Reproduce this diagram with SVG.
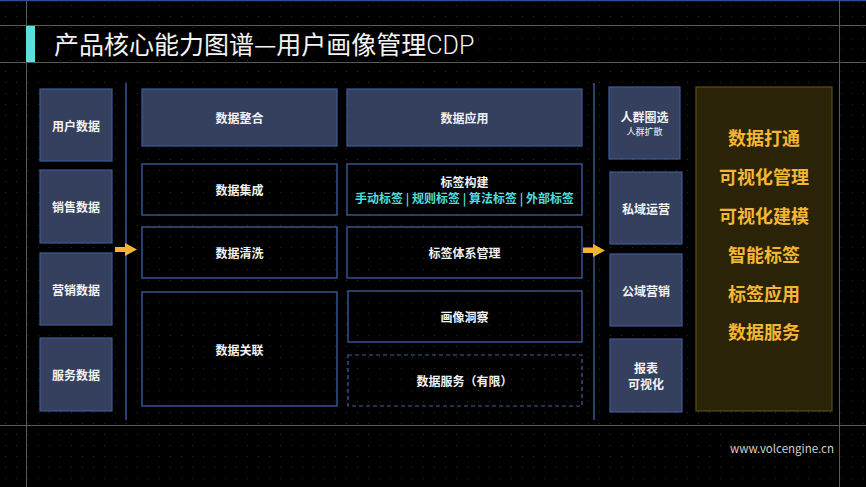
<svg xmlns="http://www.w3.org/2000/svg" width="866" height="487" viewBox="0 0 866 487">
<defs>
<pattern id="dots" x="0" y="0" width="11" height="11" patternUnits="userSpaceOnUse">
<rect x="5" y="5" width="1" height="1" fill="#2e2e2e"/>
</pattern>
</defs>
<style>
text{font-family:"Noto Sans CJK SC","Noto Sans",sans-serif;}
.fill{fill:#353f5e;stroke:#3e5b98;stroke-width:1.2;}
.out{fill:none;stroke:#3e5fa2;stroke-width:1.3;}
.dash{fill:none;stroke:#3e5fa2;stroke-width:1.2;stroke-dasharray:4 3;}
.t{fill:#f2f2f2;font-size:12px;font-weight:700;text-anchor:middle;dominant-baseline:central;}
.s{fill:#f2f2f2;font-size:9px;text-anchor:middle;dominant-baseline:central;}
.c{fill:#4fdede;font-size:12px;font-weight:700;text-anchor:middle;dominant-baseline:central;}
.y{fill:#f3b734;font-size:18px;font-weight:700;text-anchor:middle;dominant-baseline:central;}
.grid{stroke:#5a5a5a;stroke-width:1;}
.vl{stroke:#3e62b0;stroke-width:1.3;}
</style>
<rect width="866" height="487" fill="#000"/>
<rect width="866" height="487" fill="url(#dots)"/>
<line x1="0" y1="0.5" x2="866" y2="0.5" stroke="#2b4c9b" stroke-width="1.5"/>
<g id="gridlines">
<line class="grid" x1="0" y1="25.5" x2="866" y2="25.5"/>
<line class="grid" x1="0" y1="62.5" x2="866" y2="62.5"/>
<line class="grid" x1="0" y1="425.5" x2="866" y2="425.5"/>
<line class="grid" x1="26.5" y1="0" x2="26.5" y2="487"/>
<line class="grid" x1="839.5" y1="0" x2="839.5" y2="487"/>
</g>
<g id="title">
<rect x="26" y="26" width="9" height="36" fill="#5fdede"/>
<text x="54" y="54" fill="#f4f4f4" font-size="25">产品核心能力图谱—用户画像管理<tspan font-family="Roboto,'Liberation Sans',sans-serif" font-weight="300">CDP</tspan></text>
</g>
<g id="sources">
<g id="n-user"><rect class="fill" x="40" y="89" width="72" height="72"/><text class="t" x="76" y="125">用户数据</text></g>
<g id="n-sales"><rect class="fill" x="40" y="170" width="72" height="73"/><text class="t" x="76" y="206">销售数据</text></g>
<g id="n-mkt"><rect class="fill" x="40" y="253" width="72" height="72"/><text class="t" x="76" y="289">营销数据</text></g>
<g id="n-svc"><rect class="fill" x="40" y="338" width="72" height="73"/><text class="t" x="76" y="374">服务数据</text></g>
</g>
<g id="n-integrate"><rect class="fill" x="142" y="89" width="195" height="57"/><text class="t" x="239.5" y="117">数据整合</text></g>
<g id="n-collect"><rect class="out" x="142" y="164" width="195" height="51"/><text class="t" x="239.5" y="189">数据集成</text></g>
<g id="n-clean"><rect class="out" x="142" y="227" width="195" height="51"/><text class="t" x="239.5" y="252">数据清洗</text></g>
<g id="n-link"><rect class="out" x="142" y="292" width="195" height="114"/><text class="t" x="239.5" y="349">数据关联</text></g>
<g id="n-apply"><rect class="fill" x="347" y="89" width="235" height="57"/><text class="t" x="464.5" y="117">数据应用</text></g>
<g id="n-tagbuild"><rect class="out" x="347" y="164" width="235" height="51"/><text class="t" x="464.5" y="181">标签构建</text><text class="c" x="464.5" y="197">手动标签 | 规则标签 | 算法标签 | 外部标签</text></g>
<g id="n-tagsys"><rect class="out" x="347" y="227" width="235" height="51"/><text class="t" x="464.5" y="252">标签体系管理</text></g>
<g id="n-insight"><rect class="out" x="348" y="291" width="234" height="51"/><text class="t" x="464.5" y="316">画像洞察</text></g>
<g id="n-dataservice"><rect class="dash" x="348" y="355" width="234" height="51"/><text class="t" x="464.5" y="380">数据服务（有限）</text></g>
<g id="targets">
<g id="n-crowd"><rect class="fill" x="609" y="87" width="71" height="72"/><text class="t" x="644.5" y="116">人群圈选</text><text class="s" x="644.5" y="131">人群扩散</text></g>
<g id="n-private"><rect class="fill" x="610" y="172" width="72" height="72"/><text class="t" x="646" y="208">私域运营</text></g>
<g id="n-public"><rect class="fill" x="610" y="254" width="72" height="72"/><text class="t" x="646" y="290">公域营销</text></g>
<g id="n-report"><rect class="fill" x="610" y="339" width="72" height="73"/><text class="t" x="646" y="367">报表</text><text class="t" x="646" y="383">可视化</text></g>
</g>
<g id="n-features">
<rect x="696" y="87" width="136" height="324" fill="#2a2307" stroke="#5e4c12" stroke-width="1.2"/>
<text class="y" x="764" y="137">数据打通</text>
<text class="y" x="764" y="176">可视化管理</text>
<text class="y" x="764" y="215">可视化建模</text>
<text class="y" x="764" y="254">智能标签</text>
<text class="y" x="764" y="293">标签应用</text>
<text class="y" x="764" y="331">数据服务</text>
</g>
<g id="connectors">
<line class="vl" x1="126" y1="83" x2="126" y2="420"/>
<line class="vl" x1="594" y1="83" x2="594" y2="420"/>
<path d="M115,247 L125,247 L125,243 L137,249.5 L125,256 L125,252 L115,252 Z" fill="#f3b431"/>
<path d="M583,247.5 L593,247.5 L593,244 L605,250.5 L593,257 L593,253 L583,253 Z" fill="#f3b431"/>
</g>
<text x="834" y="453" fill="#cfcfcf" font-size="11.5" text-anchor="end" font-family="'Open Sans','Liberation Sans',sans-serif">www.volcengine.cn</text>
</svg>
